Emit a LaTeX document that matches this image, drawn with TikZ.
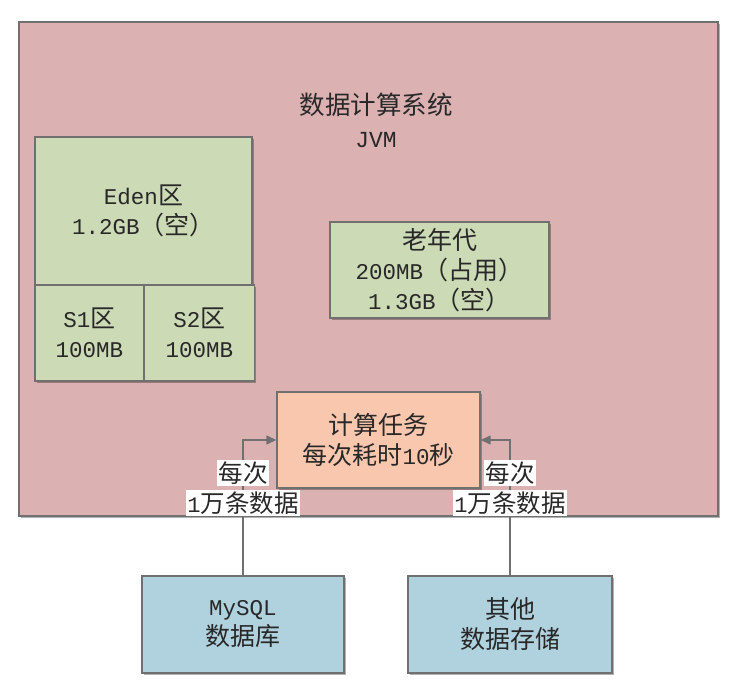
\documentclass[tikz,border=0pt]{standalone}
\usepackage{fontspec}
\setmainfont{Noto Sans CJK SC}
\newfontfamily\lat[Scale=0.9]{Liberation Mono}
\usetikzlibrary{arrows.meta,shadows}
\definecolor{mainfill}{RGB}{219,177,178}
\definecolor{greenfill}{RGB}{204,218,181}
\definecolor{salmonfill}{RGB}{249,198,174}
\definecolor{bluefill}{RGB}{176,209,222}
\definecolor{bordergray}{RGB}{112,112,112}
\definecolor{txt}{RGB}{40,40,40}
\begin{document}
\begin{tikzpicture}[x=1pt,y=-1pt,
  box/.style={draw=bordergray,line width=1.4pt,inner sep=0pt,align=center,
    text=txt,font=\fontsize{25}{30}\selectfont,
    drop shadow={shadow xshift=1.5pt,shadow yshift=-1.5pt,opacity=0.3,fill=black}},
  plain/.style={inner sep=0pt,align=center,text=txt,font=\fontsize{25.5}{31}\selectfont},
  lbl/.style={fill=white,inner sep=1.5pt,text=txt,font=\fontsize{24.5}{28}\selectfont},
  conn/.style={draw=bordergray,line width=1.4pt,-{Triangle[length=10pt,width=9pt]}}]
\useasboundingbox (0,0) rectangle (734,697);
\fill[white] (0,0) rectangle (734,697);
\node[box,fill=mainfill,minimum width=699pt,minimum height=494pt] (main) at (368.5,269) {};
\node[plain] (title) at (376,120) {数据计算系统\\[2pt]{\lat JVM}};
\node[box,fill=greenfill,minimum width=217pt,minimum height=148pt] (eden) at (143.5,211) {{\lat Eden}区\\{\lat 1.2GB}（空）};
\node[box,fill=greenfill,minimum width=109pt,minimum height=96pt] (s1) at (89.5,333) {{\lat S1}区\\{\lat 100MB}};
\node[box,fill=greenfill,minimum width=110pt,minimum height=96pt] (s2) at (199.5,333) {{\lat S2}区\\{\lat 100MB}};
\node[box,fill=greenfill,minimum width=219pt,minimum height=96pt] (old) at (439.5,270) {老年代\\{\lat 200MB}（占用）\\{\lat 1.3GB}（空）};
\node[box,fill=salmonfill,minimum width=203pt,minimum height=96pt] (task) at (378.5,440) {计算任务\\每次耗时{\lat 10}秒};
\node[box,fill=bluefill,minimum width=202pt,minimum height=97pt] (mysql) at (243,624.5) {{\lat MySQL}\\数据库};
\node[box,fill=bluefill,minimum width=204pt,minimum height=97pt] (other) at (510,624.5) {其他\\数据存储};
\draw[conn] (mysql.north) |- (task.west);
\draw[conn] (other.north) |- (task.east);
\node[lbl] (la) at (243,473) {每次};
\node[lbl] (lb) at (243,503) {{\lat 1}万条数据};
\node[lbl] (ra) at (510,473) {每次};
\node[lbl] (rb) at (510,503) {{\lat 1}万条数据};
\end{tikzpicture}
\end{document}
